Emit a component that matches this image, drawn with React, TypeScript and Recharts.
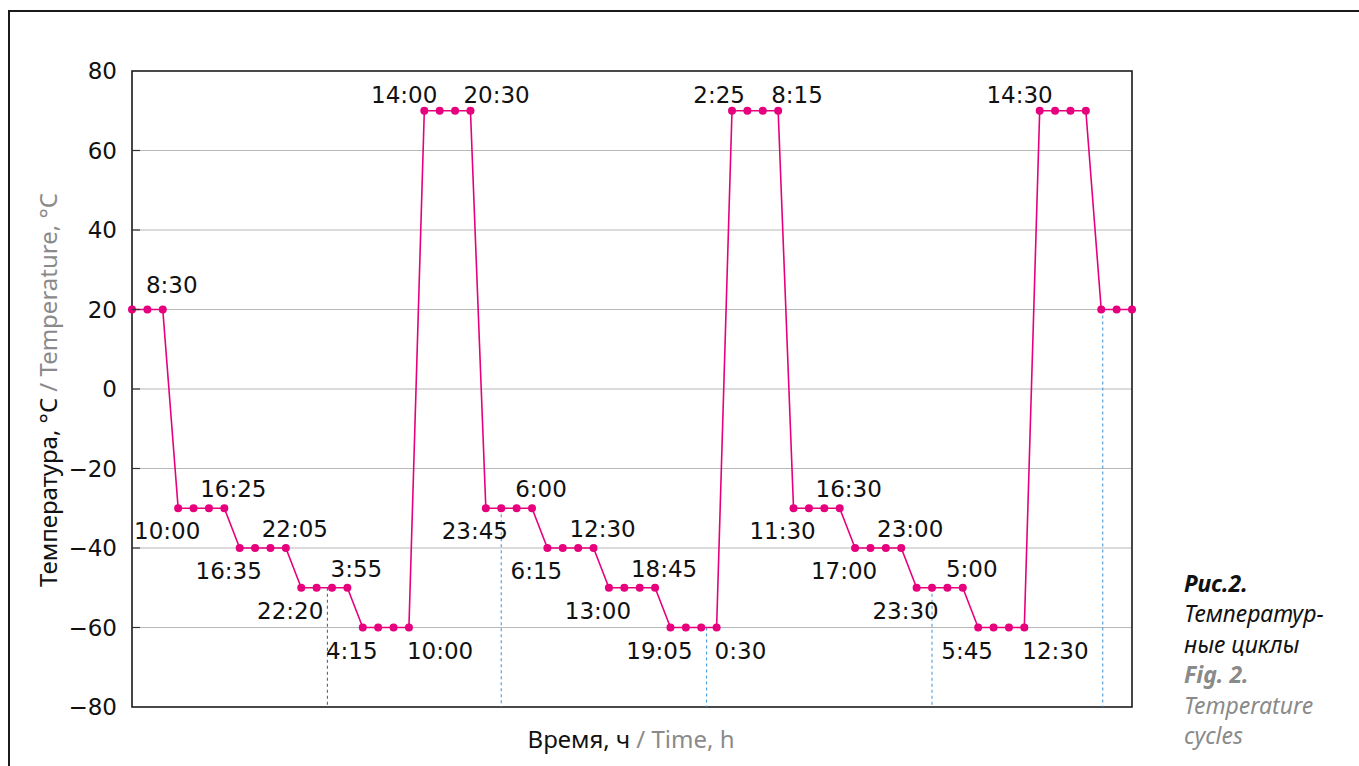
import { LineChart, Line, XAxis, YAxis, CartesianGrid, ReferenceArea, ReferenceLine } from 'recharts';

// temperature of each logged step, °C (points are equally spaced along the time axis)
const temps = [
  20, 20, 20,
  -30, -30, -30, -30, -40, -40, -40, -40, -50, -50, -50, -50, -60, -60, -60, -60, 70, 70, 70, 70,
  -30, -30, -30, -30, -40, -40, -40, -40, -50, -50, -50, -50, -60, -60, -60, -60, 70, 70, 70, 70,
  -30, -30, -30, -30, -40, -40, -40, -40, -50, -50, -50, -50, -60, -60, -60, -60, 70, 70, 70, 70,
  20, 20, 20,
];

// clock time written at the step changes ('' = no label)
const timeLabels = [
  '', '', '8:30',
  '10:00', '', '', '16:25', '16:35', '', '', '22:05', '22:20', '', '', '3:55', '4:15', '', '', '10:00', '14:00', '', '', '20:30',
  '23:45', '', '', '6:00', '6:15', '', '', '12:30', '13:00', '', '', '18:45', '19:05', '', '', '0:30', '2:25', '', '', '8:15',
  '11:30', '', '', '16:30', '17:00', '', '', '23:00', '23:30', '', '', '5:00', '5:45', '', '', '12:30', '14:30', '', '', '',
  '', '', '',
];

// dashed markers (position on the step axis, level where they start)
const dayMarks = [
  { x: 12.7, t: -50 },
  { x: 24, t: -30 },
  { x: 37.35, t: -60 },
  { x: 52, t: -50 },
  { x: 63.1, t: 20 },
];

const yTicks = [80, 60, 40, 20, 0, -20, -40, -60, -80];

const data = temps.map((t, i) => ({ i, t, label: timeLabels[i] }));

const MAGENTA = '#e6007e';
const NUM_FONT = '"DejaVu Sans", sans-serif';
const TXT_FONT = '"Noto Sans", sans-serif';

const fmt = (v: number) => (v < 0 ? `\u2212${-v}` : `${v}`);

function YTick(props: any) {
  const { x, y, payload } = props;
  const v = payload.value;
  return (
    <g>
      {v !== 80 && v !== -80 && (
        <line x1={x + 15} x2={x + 23} y1={y} y2={y} stroke="#333" strokeWidth={1.2} />
      )}
      <text x={x} y={y} dy={8} textAnchor="end" fontFamily={NUM_FONT} fontSize={23} fill="#111">
        {fmt(v)}
      </text>
    </g>
  );
}

function StepDot(props: any) {
  const { cx, cy, index } = props;
  const label = timeLabels[index];
  const t = temps[index];
  const first = temps[index - 1] !== t;
  let text = null;
  if (label) {
    let dx = 0, dy = 0, anchor = 'middle';
    if (t === 70) {
      dy = -8;
      if (first) { anchor = 'end'; dx = 13; } else { anchor = 'start'; dx = -7; }
    } else if (first) {
      anchor = 'middle'; dx = -11; dy = 31;
    } else if (t === -60) {
      anchor = 'start'; dx = -2; dy = 31;
    } else {
      anchor = 'middle'; dx = 9; dy = t === 20 ? -17 : -11;
    }
    text = (
      <text x={cx + dx} y={cy + dy} textAnchor={anchor} fontFamily={NUM_FONT} fontSize={23} fill="#111">
        {label}
      </text>
    );
  }
  return (
    <g key={`d${index}`}>
      <circle cx={cx} cy={cy} r={4} fill={MAGENTA} />
      {text}
    </g>
  );
}

export default function App() {
  return (
    <div style={{ position: 'absolute', left: 0, top: 0, width: 1359, height: 766, background: '#fff', overflow: 'hidden' }}>
      <div style={{ position: 'absolute', left: 8, top: 10, width: 1360, height: 770, borderTop: '2px solid #1a1a1a', borderLeft: '2px solid #1a1a1a' }} />
      <div style={{ position: 'absolute', left: 0, top: 0 }}>
        <LineChart width={1359} height={766} data={data} margin={{ top: 71, right: 227, bottom: 59, left: 72 }}>
          <CartesianGrid vertical={false} stroke="#b8b8b8" strokeWidth={1.2} />
          <XAxis dataKey="i" type="number" domain={[0, 65]} hide />
          <YAxis
            domain={[-80, 80]}
            ticks={yTicks}
            width={60}
            interval={0}
            axisLine={false}
            tickLine={false}
            tickSize={0}
            tickMargin={15}
            tick={<YTick />}
          />
          <ReferenceArea x1={0} x2={65} y1={-80} y2={80} fill="none" stroke="#1a1a1a" strokeWidth={1.6} ifOverflow="visible" />
          {dayMarks.map((m, k) => (
            <ReferenceLine
              key={k}
              segment={[{ x: m.x, y: m.t }, { x: m.x, y: -80 }]}
              stroke={k === 0 ? '#1f5f9e' : '#3a8fd6'}
              strokeWidth={1}
              strokeDasharray="3 3"
              ifOverflow="visible"
            />
          ))}
          <Line
            dataKey="t"
            type="linear"
            stroke={MAGENTA}
            strokeWidth={1.6}
            dot={StepDot}
            activeDot={false}
            isAnimationActive={false}
          />
        </LineChart>
      </div>
      <svg width={1359} height={766} style={{ position: 'absolute', left: 0, top: 0, pointerEvents: 'none' }}>
        <text x={631} y={748} textAnchor="middle" fontFamily={TXT_FONT} fontSize={24}>
          <tspan fill="#111">Время, ч </tspan>
          <tspan fill="#8a8a8a">/ Time, h</tspan>
        </text>
        <text transform="translate(57,390) rotate(-90)" textAnchor="middle" fontFamily={TXT_FONT} fontSize={24}>
          <tspan fill="#111">Температура, °C </tspan>
          <tspan fill="#8a8a8a">/ Temperature, °C</tspan>
        </text>
        <g fontFamily={TXT_FONT} fontSize={23} fontStyle="italic">
          <text x={1184} y={592} fontWeight="bold" fill="#111">Рис.2.</text>
          <text x={1184} y={622} fill="#111">Температур-</text>
          <text x={1184} y={653} fill="#111">ные циклы</text>
          <text x={1184} y={683} fontWeight="bold" fill="#8a8a8a">Fig. 2.</text>
          <text x={1184} y={714} fill="#8a8a8a">Temperature</text>
          <text x={1184} y={744} fill="#8a8a8a">cycles</text>
        </g>
      </svg>
    </div>
  );
}
